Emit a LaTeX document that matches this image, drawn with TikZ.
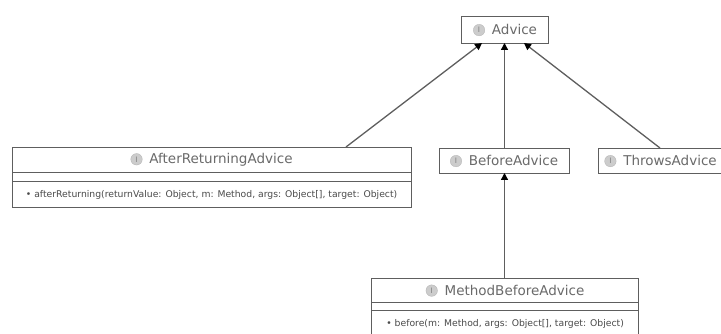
\documentclass[tikz,border=0pt]{standalone}
\usepackage{fontspec}
\setmainfont{DejaVu Sans}
\usetikzlibrary{arrows.meta}
\definecolor{umlline}{HTML}{5E5E5E}
\definecolor{umltext}{HTML}{6A6A6A}
\definecolor{methtext}{HTML}{4A4A4A}
\tikzset{
  x=1pt,y=-1pt,
  cell/.style={draw=umlline,line width=1.2pt,fill=white,inner sep=0pt,anchor=north west,text=umltext,font=\fontsize{13.5}{14}\selectfont,align=center},
  meth/.style={cell,text=methtext,font=\fontsize{9.25}{10}\selectfont},
  inherit/.style={draw=umlline,line width=1.3pt,-{Triangle[length=7pt,width=7pt,color=black]}},
}
\newcommand{\ico}{\raisebox{-1.2pt}{\tikz\node[circle,fill=black!20,draw=black!30,line width=.3pt,inner sep=0pt,minimum size=11.5pt,text=black!50,font=\fontsize{7.5}{7.5}\selectfont]{I};}\hspace{7pt}}
\begin{document}
\begin{tikzpicture}
\useasboundingbox (0,0) rectangle (721,334);
\node[cell,minimum width=87pt,minimum height=27pt] (advice) at (461,16) {\ico Advice};
\node[cell,minimum width=130pt,minimum height=25pt] (before) at (438.5,148) {\ico BeforeAdvice};
\node[cell,minimum width=125pt,minimum height=25pt] (throws) at (597.5,148) {\ico ThrowsAdvice};
\node[cell,minimum width=399pt,minimum height=25pt] (after) at (11.5,147) {\ico AfterReturningAdvice};
\node[cell,minimum width=399pt,minimum height=9pt] (aftermid) at (11.5,172) {};
\node[meth,minimum width=399pt,minimum height=26pt] (aftermeth) at (11.5,181) {\textbullet\ afterReturning(returnValue: Object, m: Method, args: Object[], target: Object)};
\node[cell,minimum width=267pt,minimum height=24pt] (mba) at (371,278) {\ico MethodBeforeAdvice};
\node[cell,minimum width=267pt,minimum height=8pt] (mbamid) at (371,302) {};
\node[meth,minimum width=267pt,minimum height=27pt] (mbameth) at (371,310) {\textbullet\ before(m: Method, args: Object[], target: Object)};
\coordinate (aftertop) at (346,147);
\coordinate (advleft) at (482,43);
\coordinate (advmid) at (504.5,43);
\coordinate (advright) at (524,43);
\coordinate (throwtop) at (660,148);
\coordinate (befbot) at (504.5,173);
\coordinate (beftop) at (504.5,148);
\coordinate (mbatop) at (504.5,278);
\draw[inherit] (aftertop) -- (advleft);
\draw[inherit] (beftop) -- (advmid);
\draw[inherit] (throwtop) -- (advright);
\draw[inherit] (mbatop) -- (befbot);
\end{tikzpicture}
\end{document}
